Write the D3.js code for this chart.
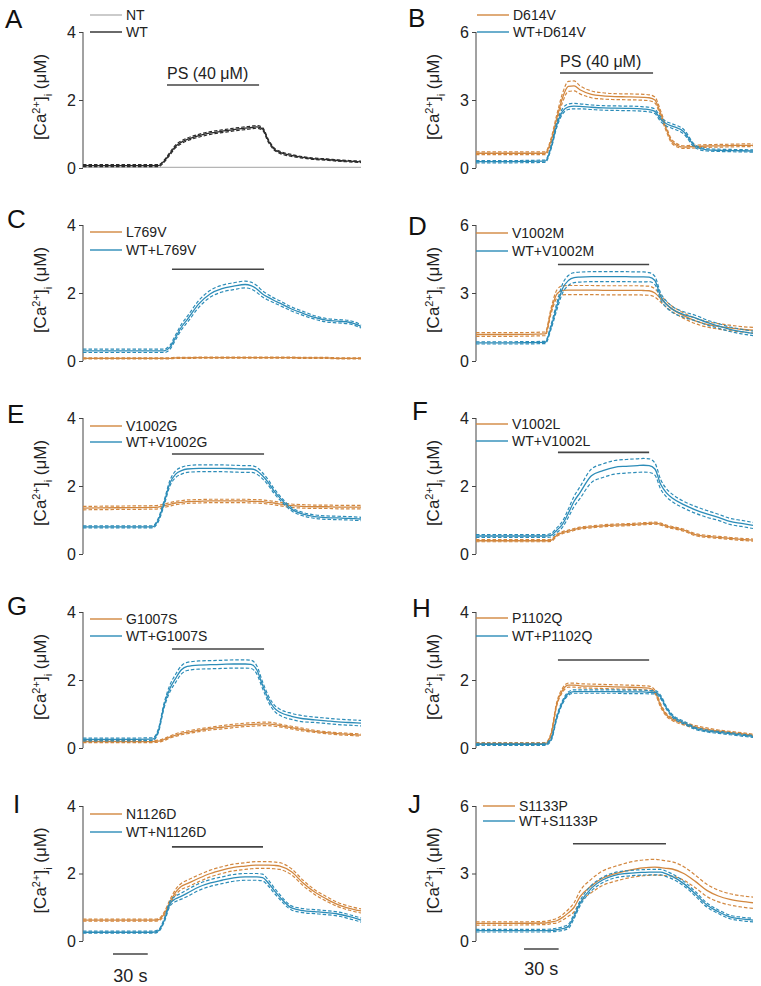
<!DOCTYPE html>
<html>
<head>
<meta charset="utf-8">
<script src="https://cdn.jsdelivr.net/npm/d3@7"></script>
<style>
  body { margin: 0; background: #fff; }
  svg { font-family: Arial, "Liberation Sans", sans-serif; }
</style>
</head>
<body>
<svg id="chart" width="761" height="986"></svg>
<script>
// time points (s) shared by every trace
const time = [0, 30, 60, 65, 70, 75, 80, 85, 90, 100, 110, 120, 130, 140, 145, 150, 155, 160, 165, 170, 180, 190, 200, 210, 220, 230, 240];

// A: NT / WT
const ntA = [0.02,0.02,0.02,0.02,0.02,0.02,0.02,0.02,0.02,0.02,0.02,0.02,0.02,0.02,0.02,0.02,0.02,0.02,0.02,0.02,0.02,0.02,0.02,0.02,0.02,0.02,0.02];
const wtA = [0.07,0.07,0.07,0.07,0.2,0.42,0.64,0.76,0.84,0.95,1.03,1.08,1.13,1.17,1.19,1.21,1.15,0.8,0.56,0.46,0.37,0.31,0.27,0.25,0.22,0.2,0.18];
const wtA_sem = [0.03,0.03,0.03,0.03,0.03,0.04,0.04,0.04,0.04,0.04,0.04,0.04,0.04,0.04,0.04,0.04,0.04,0.04,0.03,0.03,0.03,0.02,0.02,0.02,0.02,0.02,0.02];

// B: D614V
const mutD614V = [0.65,0.65,0.65,1.2,2.2,3.1,3.6,3.62,3.45,3.25,3.18,3.15,3.14,3.13,3.12,3.1,3.0,2.4,1.7,1.15,0.92,0.95,0.97,0.98,0.99,1.0,1.0];
const mutD614V_sem = [0.06,0.06,0.06,0.1,0.15,0.2,0.22,0.22,0.18,0.15,0.14,0.13,0.13,0.13,0.13,0.13,0.13,0.12,0.1,0.08,0.06,0.06,0.06,0.06,0.06,0.06,0.06];
const wtD614V = [0.28,0.28,0.3,0.9,1.9,2.5,2.7,2.73,2.72,2.68,2.65,2.64,2.63,2.62,2.6,2.58,2.5,2.15,1.95,1.85,1.6,0.95,0.8,0.78,0.77,0.76,0.75];
const wtD614V_sem = [0.05,0.05,0.05,0.07,0.1,0.12,0.12,0.12,0.11,0.1,0.1,0.1,0.1,0.1,0.1,0.1,0.1,0.1,0.1,0.1,0.1,0.06,0.05,0.05,0.05,0.05,0.05];

// C: L769V
const mutL769V = [0.08,0.08,0.08,0.08,0.08,0.08,0.09,0.09,0.09,0.1,0.1,0.1,0.1,0.1,0.1,0.1,0.1,0.1,0.1,0.1,0.1,0.09,0.09,0.09,0.08,0.08,0.08];
const mutL769V_sem = [0.015,0.015,0.015,0.015,0.015,0.015,0.015,0.015,0.015,0.015,0.015,0.015,0.015,0.015,0.015,0.015,0.015,0.015,0.015,0.015,0.015,0.015,0.015,0.015,0.015,0.015,0.015];
const wtL769V = [0.3,0.3,0.3,0.3,0.3,0.4,0.7,1.0,1.22,1.68,1.98,2.13,2.2,2.25,2.22,2.12,1.97,1.87,1.78,1.7,1.53,1.4,1.28,1.2,1.17,1.14,1.02];
const wtL769V_sem = [0.05,0.05,0.05,0.05,0.05,0.06,0.07,0.08,0.09,0.1,0.1,0.1,0.1,0.1,0.1,0.1,0.09,0.08,0.07,0.07,0.06,0.06,0.05,0.05,0.05,0.05,0.05];

// D: V1002M
const mutV1002M = [1.17,1.17,1.2,2.2,2.95,3.12,3.13,3.13,3.13,3.13,3.12,3.12,3.12,3.12,3.11,3.1,3.0,2.75,2.5,2.3,2.0,1.77,1.62,1.53,1.46,1.4,1.36];
const mutV1002M_sem = [0.08,0.08,0.08,0.12,0.18,0.2,0.2,0.2,0.2,0.2,0.2,0.2,0.2,0.2,0.2,0.2,0.18,0.15,0.13,0.12,0.12,0.12,0.12,0.12,0.12,0.12,0.12];
const wtV1002M = [0.8,0.8,0.82,1.5,2.4,3.2,3.55,3.68,3.7,3.72,3.72,3.72,3.72,3.71,3.71,3.7,3.55,2.85,2.5,2.28,2.05,1.9,1.7,1.55,1.4,1.3,1.22];
const wtV1002M_sem = [0.05,0.05,0.05,0.1,0.15,0.2,0.22,0.22,0.22,0.22,0.22,0.22,0.22,0.22,0.22,0.2,0.18,0.15,0.14,0.13,0.12,0.12,0.11,0.1,0.1,0.1,0.1];

// E: V1002G
const mutV1002G = [1.35,1.36,1.37,1.38,1.42,1.46,1.5,1.52,1.54,1.55,1.56,1.56,1.56,1.56,1.55,1.55,1.54,1.52,1.5,1.47,1.42,1.4,1.39,1.39,1.38,1.38,1.38];
const mutV1002G_sem = [0.05,0.05,0.05,0.05,0.05,0.05,0.05,0.05,0.05,0.05,0.05,0.05,0.05,0.05,0.05,0.05,0.05,0.05,0.05,0.05,0.05,0.05,0.05,0.05,0.05,0.05,0.05];
const wtV1002G = [0.8,0.8,0.8,1.0,1.5,2.08,2.35,2.45,2.5,2.52,2.52,2.52,2.51,2.5,2.5,2.45,2.3,2.1,1.85,1.65,1.32,1.17,1.1,1.07,1.06,1.05,1.03];
const wtV1002G_sem = [0.03,0.03,0.03,0.05,0.07,0.08,0.1,0.1,0.1,0.1,0.1,0.1,0.1,0.1,0.1,0.1,0.09,0.08,0.07,0.06,0.05,0.05,0.05,0.05,0.05,0.05,0.05];

// F: V1002L
const mutV1002L = [0.39,0.39,0.39,0.4,0.55,0.63,0.67,0.72,0.76,0.8,0.83,0.85,0.86,0.88,0.89,0.9,0.91,0.88,0.82,0.78,0.7,0.57,0.52,0.49,0.46,0.43,0.41];
const mutV1002L_sem = [0.03,0.03,0.03,0.03,0.03,0.03,0.03,0.03,0.03,0.03,0.03,0.03,0.03,0.03,0.03,0.03,0.03,0.03,0.03,0.03,0.03,0.03,0.03,0.03,0.03,0.03,0.03];
const wtV1002L = [0.53,0.53,0.53,0.55,0.7,0.88,1.2,1.55,1.8,2.3,2.45,2.55,2.58,2.6,2.61,2.6,2.5,2.05,1.8,1.65,1.45,1.3,1.18,1.08,0.96,0.9,0.84];
const wtV1002L_sem = [0.04,0.04,0.04,0.05,0.07,0.09,0.12,0.15,0.17,0.2,0.2,0.2,0.2,0.2,0.2,0.2,0.18,0.14,0.12,0.11,0.1,0.1,0.1,0.09,0.09,0.09,0.09];

// G: G1007S
const mutG1007S = [0.19,0.19,0.19,0.2,0.25,0.32,0.38,0.43,0.46,0.52,0.57,0.61,0.65,0.68,0.69,0.7,0.71,0.71,0.69,0.66,0.6,0.54,0.49,0.45,0.42,0.4,0.38];
const mutG1007S_sem = [0.03,0.03,0.03,0.03,0.03,0.03,0.04,0.04,0.04,0.04,0.04,0.05,0.05,0.05,0.05,0.05,0.05,0.05,0.05,0.04,0.04,0.04,0.03,0.03,0.03,0.03,0.03];
const wtG1007S = [0.25,0.25,0.26,0.5,1.25,1.75,2.05,2.3,2.4,2.44,2.45,2.46,2.47,2.47,2.46,2.3,1.85,1.45,1.18,1.05,0.93,0.86,0.83,0.8,0.77,0.75,0.73];
const wtG1007S_sem = [0.04,0.04,0.04,0.05,0.07,0.1,0.12,0.12,0.12,0.12,0.12,0.12,0.12,0.12,0.12,0.12,0.1,0.09,0.09,0.09,0.09,0.09,0.08,0.08,0.08,0.08,0.08];

// H: P1102Q
const mutP1102Q = [0.13,0.13,0.13,0.4,1.3,1.7,1.85,1.85,1.83,1.82,1.81,1.8,1.79,1.78,1.77,1.76,1.65,1.25,0.97,0.85,0.72,0.62,0.55,0.5,0.46,0.42,0.38];
const mutP1102Q_sem = [0.03,0.03,0.03,0.04,0.05,0.06,0.06,0.06,0.06,0.06,0.06,0.06,0.06,0.06,0.06,0.06,0.05,0.05,0.04,0.04,0.04,0.04,0.04,0.03,0.03,0.03,0.03];
const wtP1102Q = [0.11,0.11,0.11,0.25,0.9,1.35,1.6,1.66,1.66,1.66,1.66,1.66,1.65,1.65,1.65,1.64,1.64,1.5,1.18,0.95,0.75,0.58,0.5,0.46,0.42,0.38,0.34];
const wtP1102Q_sem = [0.03,0.03,0.03,0.04,0.05,0.05,0.05,0.05,0.05,0.05,0.05,0.05,0.05,0.05,0.05,0.05,0.05,0.05,0.04,0.04,0.04,0.03,0.03,0.03,0.03,0.03,0.03];

// I: N1126D
const mutN1126D = [0.62,0.62,0.62,0.63,0.8,1.15,1.45,1.62,1.7,1.86,2.0,2.1,2.18,2.22,2.24,2.25,2.25,2.25,2.24,2.22,2.05,1.72,1.45,1.25,1.08,0.97,0.89];
const mutN1126D_sem = [0.03,0.03,0.03,0.03,0.05,0.07,0.08,0.09,0.1,0.1,0.1,0.1,0.1,0.1,0.1,0.1,0.1,0.1,0.1,0.1,0.09,0.08,0.07,0.07,0.06,0.06,0.06];
const wtN1126D = [0.26,0.26,0.26,0.3,0.6,1.1,1.25,1.33,1.42,1.6,1.72,1.8,1.87,1.9,1.9,1.9,1.88,1.72,1.5,1.3,0.98,0.9,0.87,0.84,0.8,0.72,0.62];
const wtN1126D_sem = [0.03,0.03,0.03,0.03,0.05,0.07,0.08,0.09,0.1,0.1,0.1,0.1,0.1,0.1,0.1,0.1,0.1,0.09,0.08,0.07,0.06,0.06,0.06,0.06,0.06,0.06,0.06];

// J: S1133P
const mutS1133P = [0.78,0.78,0.8,0.85,0.9,1.05,1.25,1.5,1.96,2.45,2.8,2.98,3.12,3.22,3.25,3.27,3.28,3.26,3.23,3.2,3.0,2.65,2.25,2.0,1.85,1.76,1.7];
const mutS1133P_sem = [0.07,0.07,0.07,0.08,0.1,0.12,0.15,0.2,0.25,0.3,0.32,0.33,0.34,0.35,0.35,0.35,0.35,0.34,0.33,0.32,0.3,0.28,0.27,0.26,0.25,0.25,0.25];
const wtS1133P = [0.46,0.46,0.46,0.47,0.5,0.55,0.65,1.1,1.66,2.35,2.72,2.92,3.0,3.04,3.05,3.06,3.06,3.06,2.98,2.87,2.55,2.1,1.6,1.3,1.07,0.98,0.93];
const wtS1133P_sem = [0.06,0.06,0.06,0.06,0.07,0.08,0.09,0.1,0.11,0.12,0.12,0.12,0.12,0.12,0.12,0.12,0.12,0.12,0.12,0.11,0.1,0.1,0.09,0.08,0.08,0.08,0.08];

const ORANGE = "#d2873f", BLUE = "#2c8cb8", NTGRAY = "#b5b5b5", WTDARK = "#2a2a2a";

// panel layout
const colX = [[83, 361], [476, 753]];
const rowY = [[168, 32], [361, 225], [554, 418], [748, 612], [941, 806]];

const panels = [
  { id: "A", col: 0, row: 0, yMax: 4, ps: [72.5, 152], psY: 2.44, psText: true, leg: [-17, 0], legX: 90, letter: [5, 28],
    series: [{ name: "NT", mean: ntA, sem: null, color: NTGRAY }, { name: "WT", mean: wtA, sem: wtA_sem, color: WTDARK }] },
  { id: "B", col: 1, row: 0, yMax: 6, ps: [72.8, 153.4], psY: 4.19, psText: true, leg: [-17, 0], legX: 477, letter: [408, 27],
    series: [{ name: "D614V", mean: mutD614V, sem: mutD614V_sem, color: ORANGE }, { name: "WT+D614V", mean: wtD614V, sem: wtD614V_sem, color: BLUE }] },
  { id: "C", col: 0, row: 1, yMax: 4, ps: [76.8, 156.3], psY: 2.7, leg: [7, 25], legX: 90, letter: [7, 228],
    series: [{ name: "L769V", mean: mutL769V, sem: mutL769V_sem, color: ORANGE }, { name: "WT+L769V", mean: wtL769V, sem: wtL769V_sem, color: BLUE }] },
  { id: "D", col: 1, row: 1, yMax: 6, ps: [71, 150], psY: 4.26, leg: [8, 26], legX: 476, letter: [408, 235],
    series: [{ name: "V1002M", mean: mutV1002M, sem: mutV1002M_sem, color: ORANGE }, { name: "WT+V1002M", mean: wtV1002M, sem: wtV1002M_sem, color: BLUE }] },
  { id: "E", col: 0, row: 2, yMax: 4, ps: [76.8, 156.3], psY: 2.94, leg: [8, 24], legX: 90, letter: [7, 423],
    series: [{ name: "V1002G", mean: mutV1002G, sem: mutV1002G_sem, color: ORANGE }, { name: "WT+V1002G", mean: wtV1002G, sem: wtV1002G_sem, color: BLUE }] },
  { id: "F", col: 1, row: 2, yMax: 4, ps: [71, 150], psY: 2.99, leg: [6, 23], legX: 476, letter: [412, 420],
    series: [{ name: "V1002L", mean: mutV1002L, sem: mutV1002L_sem, color: ORANGE }, { name: "WT+V1002L", mean: wtV1002L, sem: wtV1002L_sem, color: BLUE }] },
  { id: "G", col: 0, row: 3, yMax: 4, ps: [76.8, 156.3], psY: 2.91, leg: [7, 24], legX: 90, letter: [7, 615],
    series: [{ name: "G1007S", mean: mutG1007S, sem: mutG1007S_sem, color: ORANGE }, { name: "WT+G1007S", mean: wtG1007S, sem: wtG1007S_sem, color: BLUE }] },
  { id: "H", col: 1, row: 3, yMax: 4, ps: [71, 150], psY: 2.59, leg: [6, 24], legX: 476, letter: [412, 617],
    series: [{ name: "P1102Q", mean: mutP1102Q, sem: mutP1102Q_sem, color: ORANGE }, { name: "WT+P1102Q", mean: wtP1102Q, sem: wtP1102Q_sem, color: BLUE }] },
  { id: "I", col: 0, row: 4, yMax: 4, ps: [76.8, 155.4], psY: 2.79, leg: [8, 26], legX: 90, letter: [13, 813], scaleBar: [25.9, 954, 982],
    series: [{ name: "N1126D", mean: mutN1126D, sem: mutN1126D_sem, color: ORANGE }, { name: "WT+N1126D", mean: wtN1126D, sem: wtN1126D_sem, color: BLUE }] },
  { id: "J", col: 1, row: 4, yMax: 6, ps: [84, 164.6], psY: 4.32, leg: [0, 15], legX: 483, letter: [408, 813], scaleBar: [41.6, 949, 975],
    series: [{ name: "S1133P", mean: mutS1133P, sem: mutS1133P_sem, color: ORANGE }, { name: "WT+S1133P", mean: wtS1133P, sem: wtS1133P_sem, color: BLUE }] }
];

const svg = d3.select("#chart");

panels.forEach(p => {
  const x = d3.scaleLinear().domain([0, 240]).range(colX[p.col]);
  const y = d3.scaleLinear().domain([0, p.yMax]).range(rowY[p.row]);
  const g = svg.append("g");

  // panel letter
  g.append("text").attr("x", p.letter[0]).attr("y", p.letter[1])
    .attr("font-size", 26).attr("fill", "#111").text(p.id);

  // y axis
  const axis = d3.axisLeft(y).tickValues([0, p.yMax / 2, p.yMax]).tickSize(4).tickPadding(3).tickFormat(d3.format("d"));
  const ax = g.append("g").attr("transform", `translate(${colX[p.col][0]},0)`).call(axis);
  ax.select(".domain").attr("stroke", "#444").attr("d", `M0,${y(0)}V${y(p.yMax)}`);
  ax.selectAll(".tick line").attr("stroke", "#444");
  ax.selectAll(".tick text").attr("font-size", 16).attr("fill", "#222").attr("font-family", "Arial, 'Liberation Sans', sans-serif");

  // y label
  const yl = g.append("text")
    .attr("transform", `translate(${colX[p.col][0] - 37},${(y(0) + y(p.yMax)) / 2 - 3}) rotate(-90)`)
    .attr("text-anchor", "middle").attr("font-size", 17).attr("fill", "#222");
  yl.append("tspan").text("[Ca");
  yl.append("tspan").attr("baseline-shift", "super").attr("font-size", 11).text("2+");
  yl.append("tspan").text("]");
  yl.append("tspan").attr("baseline-shift", "sub").attr("font-size", 11).text("i");
  yl.append("tspan").text(" (μM)");

  // traces
  p.series.forEach(s => {
    const line = arr => d3.line().x((d, i) => x(time[i])).y(d => y(d)).curve(d3.curveMonotoneX)(arr);
    if (s.sem) {
      const up = s.mean.map((m, i) => m + s.sem[i]);
      const lo = s.mean.map((m, i) => m - s.sem[i]);
      [up, lo].forEach(b => g.append("path").attr("d", line(b)).attr("fill", "none")
        .attr("stroke", s.color).attr("stroke-width", 1.2).attr("stroke-dasharray", "3.5,2"));
    }
    g.append("path").attr("d", line(s.mean)).attr("fill", "none")
      .attr("stroke", s.color).attr("stroke-width", 1.3);
  });

  // PS bar
  g.append("line").attr("x1", x(p.ps[0])).attr("x2", x(p.ps[1]))
    .attr("y1", y(p.psY)).attr("y2", y(p.psY)).attr("stroke", "#444").attr("stroke-width", 1.6);
  if (p.psText) {
    g.append("text").attr("x", x(p.ps[0])).attr("y", y(p.psY) - 6)
      .attr("font-size", 16).attr("fill", "#222").text("PS (40 μM)");
  }

  // legend
  p.series.forEach((s, i) => {
    const ly = y(p.yMax) + p.leg[i];
    g.append("line").attr("x1", p.legX).attr("x2", p.legX + 32).attr("y1", ly).attr("y2", ly)
      .attr("stroke", s.color).attr("stroke-width", 1.4);
    g.append("text").attr("x", p.legX + 36).attr("y", ly).attr("dy", "0.36em")
      .attr("font-size", 14).attr("fill", "#222").text(s.name);
  });

  // 30 s scale bar
  if (p.scaleBar) {
    const [t0, by, ty] = p.scaleBar;
    g.append("line").attr("x1", x(t0)).attr("x2", x(t0 + 30)).attr("y1", by).attr("y2", by)
      .attr("stroke", "#444").attr("stroke-width", 1.6);
    g.append("text").attr("x", x(t0 + 15)).attr("y", ty).attr("text-anchor", "middle")
      .attr("font-size", 18).attr("fill", "#222").text("30 s");
  }
});
</script>
</body>
</html>
